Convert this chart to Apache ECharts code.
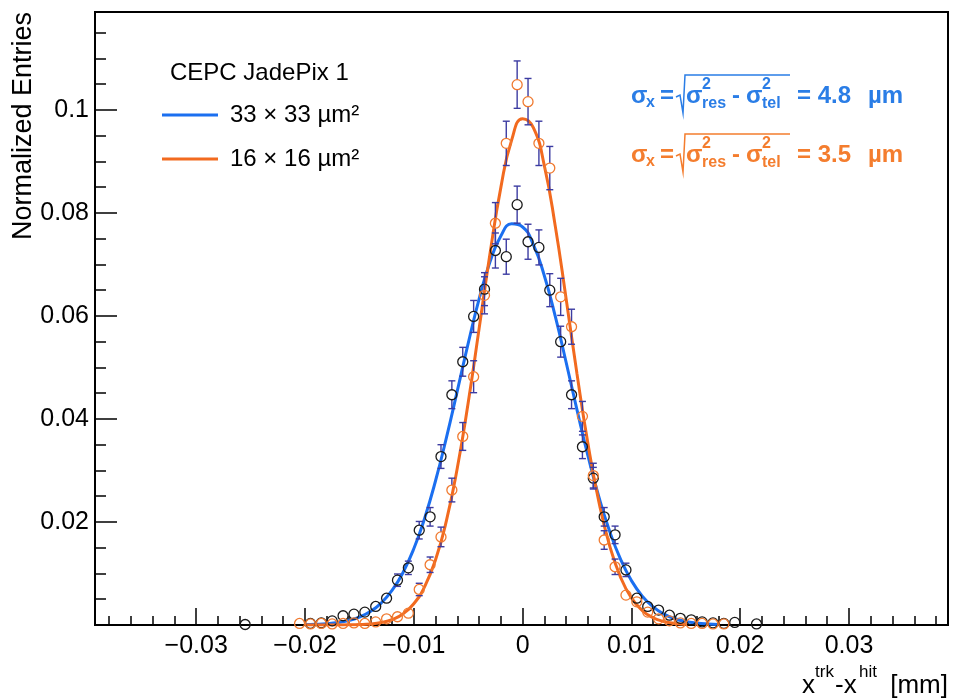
<!DOCTYPE html>
<html><head><meta charset="utf-8">
<script src="https://cdn.jsdelivr.net/npm/echarts@6/dist/echarts.min.js"></script>
<style>html,body{margin:0;padding:0;background:#fff}#c{width:953px;height:700px}</style>
</head><body><div id="c"></div>
<script>
// ---- data ----
const xMajorTicks = [-0.03, -0.02, -0.01, 0, 0.01, 0.02, 0.03];
const yMajorTicks = [0.02, 0.04, 0.06, 0.08, 0.1];

// 33 x 33 um^2 (black points)
const blackX = [-0.0255, -0.0195, -0.0185, -0.0175, -0.0165, -0.0155, -0.0145, -0.0135, -0.0125, -0.0115, -0.0105, -0.0095, -0.0085, -0.0075, -0.0065, -0.0055, -0.0045, -0.0035, -0.0025, -0.0015, -0.0005, 0.0005, 0.0015, 0.0025, 0.0035, 0.0045, 0.0055, 0.0065, 0.0075, 0.0085, 0.0095, 0.0105, 0.0115, 0.0125, 0.0135, 0.0145, 0.0155, 0.0165, 0.0175, 0.0185, 0.0195, 0.0215];
const blackY = [0.0001, 0.0003, 0.0004, 0.0008, 0.0018, 0.0021, 0.0025, 0.0036, 0.0052, 0.0087, 0.0111, 0.0184, 0.0210, 0.0327, 0.0447, 0.0511, 0.0599, 0.0652, 0.0727, 0.0715, 0.0816, 0.0744, 0.0733, 0.0650, 0.0550, 0.0447, 0.0346, 0.0285, 0.0210, 0.0175, 0.0107, 0.0052, 0.0036, 0.0029, 0.0019, 0.0013, 0.0010, 0.0006, 0.0004, 0.0003, 0.0005, 0.0002];
const blackErr = [0.0001, 0.0002, 0.0003, 0.0004, 0.0005, 0.0006, 0.0006, 0.0008, 0.0009, 0.0012, 0.0013, 0.0017, 0.0018, 0.0023, 0.0027, 0.0028, 0.0031, 0.0032, 0.0034, 0.0034, 0.0036, 0.0034, 0.0034, 0.0032, 0.0030, 0.0027, 0.0023, 0.0021, 0.0018, 0.0017, 0.0013, 0.0009, 0.0008, 0.0007, 0.0005, 0.0005, 0.0004, 0.0003, 0.0003, 0.0002, 0.0003, 0.0002];

// 16 x 16 um^2 (orange points)
const orangeX = [-0.0205, -0.0195, -0.0185, -0.0175, -0.0165, -0.0155, -0.0145, -0.0135, -0.0125, -0.0115, -0.0105, -0.0095, -0.0085, -0.0075, -0.0065, -0.0055, -0.0045, -0.0035, -0.0025, -0.0015, -0.0005, 0.0005, 0.0015, 0.0025, 0.0035, 0.0045, 0.0055, 0.0065, 0.0075, 0.0085, 0.0095, 0.0105, 0.0115, 0.0125, 0.0135, 0.0145, 0.0155, 0.0165, 0.0175, 0.0185];
const orangeY = [0.0003, 0.0002, 0.0003, 0.0002, 0.0003, 0.0004, 0.0003, 0.0006, 0.0012, 0.0016, 0.0023, 0.0069, 0.0117, 0.0171, 0.0262, 0.0366, 0.0482, 0.0640, 0.0780, 0.0935, 0.1049, 0.1016, 0.0935, 0.0887, 0.0637, 0.0579, 0.0405, 0.0290, 0.0165, 0.0113, 0.0058, 0.0045, 0.0025, 0.0012, 0.0008, 0.0004, 0.0003, 0.0003, 0.0002, 0.0002];
const orangeErr = [0.0002, 0.0002, 0.0002, 0.0002, 0.0002, 0.0003, 0.0002, 0.0003, 0.0005, 0.0006, 0.0007, 0.0012, 0.0015, 0.0019, 0.0023, 0.0027, 0.0031, 0.0036, 0.0040, 0.0043, 0.0046, 0.0045, 0.0043, 0.0042, 0.0036, 0.0034, 0.0029, 0.0024, 0.0018, 0.0015, 0.0011, 0.0010, 0.0007, 0.0005, 0.0004, 0.0003, 0.0002, 0.0002, 0.0002, 0.0002];

// fit curves
const blueFitX = [-0.020, -0.019, -0.018, -0.017, -0.016, -0.015, -0.014, -0.013, -0.012, -0.011, -0.010, -0.009, -0.008, -0.007, -0.006, -0.005, -0.004, -0.003, -0.002, -0.001, 0.000, 0.001, 0.002, 0.003, 0.004, 0.005, 0.006, 0.007, 0.008, 0.009, 0.010, 0.011, 0.012, 0.013, 0.014, 0.015, 0.016, 0.017, 0.018];
const blueFitY = [0.00006, 0.00013, 0.00025, 0.00047, 0.00087, 0.00153, 0.00260, 0.00426, 0.00670, 0.01015, 0.01479, 0.02075, 0.02800, 0.03637, 0.04545, 0.05467, 0.06327, 0.07046, 0.07551, 0.07787, 0.07727, 0.07378, 0.06780, 0.05995, 0.05101, 0.04177, 0.03291, 0.02495, 0.01820, 0.01278, 0.00863, 0.00561, 0.00351, 0.00211, 0.00122, 0.00068, 0.00037, 0.00019, 0.00009];
const orangeFitX = [-0.020, -0.019, -0.018, -0.017, -0.016, -0.015, -0.014, -0.013, -0.012, -0.011, -0.010, -0.009, -0.008, -0.007, -0.006, -0.005, -0.004, -0.003, -0.002, -0.001, 0.000, 0.001, 0.002, 0.003, 0.004, 0.005, 0.006, 0.007, 0.008, 0.009, 0.010, 0.011, 0.012, 0.013, 0.014, 0.015];
const orangeFitY = [0.000000, 0.000001, 0.000004, 0.000012, 0.000033, 0.000086, 0.00021, 0.00049, 0.00105, 0.00215, 0.00413, 0.00746, 0.01267, 0.02026, 0.03048, 0.04316, 0.05748, 0.07202, 0.08491, 0.09417, 0.09828, 0.09650, 0.08915, 0.07748, 0.06336, 0.04875, 0.03529, 0.02404, 0.01540, 0.00929, 0.00526, 0.00281, 0.00141, 0.00067, 0.00030, 0.00012];

const legendHeader = 'CEPC JadePix 1';
const legendNames = ['33 × 33 µm²', '16 × 16 µm²'];
const sigmaValues = ['4.8', '3.5'];

// ---- styling ----
const FONT = '"Liberation Sans", Arial, Helvetica, sans-serif';
const BLUE = '#1b6ff0';
const ORANGE = '#f26a1f';
const BLUE_TXT = '#2a7de6';
const ORANGE_TXT = '#f47d2e';
const ERR = '#3c3ca2';

const xMinor = [];
for (let i = -19; i <= 19; i++) xMinor.push(+(i * 0.002).toFixed(4));
const yMinor = [];
for (let i = 1; i <= 23; i++) yMinor.push(+(i * 0.005).toFixed(4));

function pointRenderer(color) {
  return function (params, api) {
    const x = api.value(0), y = api.value(1), e = api.value(2);
    const c = api.coord([x, y]);
    const t = api.coord([x, y + e]);
    const b = api.coord([x, y - e]);
    const r = 5;
    const ch = [];
    const ls = { stroke: ERR, lineWidth: 1.4 };
    if (c[1] - t[1] > r + 1) {
      ch.push({ type: 'line', shape: { x1: c[0], y1: t[1], x2: c[0], y2: c[1] - r }, style: ls });
      ch.push({ type: 'line', shape: { x1: c[0] - 3.5, y1: t[1], x2: c[0] + 3.5, y2: t[1] }, style: ls });
    }
    if (b[1] - c[1] > r + 1) {
      ch.push({ type: 'line', shape: { x1: c[0], y1: c[1] + r, x2: c[0], y2: b[1] }, style: ls });
      ch.push({ type: 'line', shape: { x1: c[0] - 3.5, y1: b[1], x2: c[0] + 3.5, y2: b[1] }, style: ls });
    }
    ch.push({ type: 'circle', shape: { cx: c[0], cy: c[1], r: r }, style: { fill: 'none', stroke: color, lineWidth: 1.3 } });
    return { type: 'group', children: ch };
  };
}

function txt(x, y, s, size, color, bold, align) {
  return { type: 'text', x: x, y: y, silent: true, z: 100,
    style: { text: s, fontSize: size, fontWeight: bold ? 'bold' : 'normal', fontFamily: FONT,
      fill: color, align: align || 'left', verticalAlign: 'middle' } };
}

function sigmaLabel(y0, color, val) {
  return [
    txt(631, y0, 'σ', 24, color, true),
    txt(646, y0 + 7, 'x', 16, color, true),
    txt(660, y0, '=', 24, color, true),
    { type: 'polyline', silent: true, z: 100,
      shape: { points: [[676, y0 + 1], [680, y0 - 1], [683, y0 + 17], [685, y0 - 21], [790, y0 - 21]] },
      style: { stroke: color, lineWidth: 1.5, fill: null } },
    txt(686, y0, 'σ', 24, color, true),
    txt(702, y0 - 11, '2', 16, color, true),
    txt(702, y0 + 8, 'res', 16, color, true),
    txt(732, y0, '-', 24, color, true),
    txt(746, y0, 'σ', 24, color, true),
    txt(762, y0 - 11, '2', 16, color, true),
    txt(762, y0 + 8, 'tel', 16, color, true),
    txt(797, y0, '= ' + val, 24, color, true),
    txt(868, y0, 'µm', 24, color, true)
  ];
}

const graphics = [].concat(
  [
    txt(170, 73, legendHeader, 24, '#000', false),
    { type: 'line', silent: true, shape: { x1: 162, y1: 115, x2: 218, y2: 115 }, style: { stroke: BLUE, lineWidth: 3 } },
    txt(230, 115, legendNames[0], 24, '#000', false),
    { type: 'line', silent: true, shape: { x1: 162, y1: 159, x2: 218, y2: 159 }, style: { stroke: ORANGE, lineWidth: 3 } },
    txt(230, 159, legendNames[1], 24, '#000', false),
    // axis titles
    { type: 'text', x: 24, y: 12, rotation: Math.PI / 2, silent: true,
      style: { text: 'Normalized Entries', fontSize: 27, fontFamily: FONT, fill: '#000', align: 'right', verticalAlign: 'middle' } },
    txt(802, 686, 'x', 26, '#000', false),
    txt(815, 672, 'trk', 17, '#000', false),
    txt(835, 686, '-x', 26, '#000', false),
    txt(859, 672, 'hit', 17, '#000', false),
    txt(948, 686, '[mm]', 26, '#000', false, 'right')
  ],
  sigmaLabel(96, BLUE_TXT, sigmaValues[0]),
  sigmaLabel(155, ORANGE_TXT, sigmaValues[1])
);

const XMIN = -0.0393, XMAX = 0.0391, YMIN = 0, YMAX = 0.119;
function fmtX(v) {
  if (Math.abs(v) < 1e-9) return '0';
  const s = Math.abs(v).toFixed(2);
  return (v < 0 ? '\u2212' : '') + s;
}
function fmtY(v) {
  return String(+v.toFixed(2));
}

const option = {
  animation: false,
  backgroundColor: '#fff',
  grid: { left: 95, right: 5, top: 12, bottom: 75, show: true, borderColor: '#000', borderWidth: 2, backgroundColor: 'transparent' },
  xAxis: [
    { type: 'value', min: XMIN, max: XMAX, position: 'bottom',
      axisLine: { show: false, onZero: false }, splitLine: { show: false },
      axisTick: { show: true, inside: true, length: 17, customValues: xMajorTicks, lineStyle: { color: '#000', width: 1.5 } },
      axisLabel: { show: true, customValues: xMajorTicks, formatter: fmtX, fontSize: 25, fontFamily: FONT, color: '#000', margin: 9 } },
    { type: 'value', min: XMIN, max: XMAX, position: 'bottom',
      axisLine: { show: false, onZero: false }, splitLine: { show: false },
      axisTick: { show: true, inside: true, length: 9, customValues: xMinor, lineStyle: { color: '#000', width: 1.5 } },
      axisLabel: { show: false } }
  ],
  yAxis: [
    { type: 'value', min: YMIN, max: YMAX, position: 'left',
      axisLine: { show: false, onZero: false }, splitLine: { show: false },
      axisTick: { show: true, inside: true, length: 22, customValues: yMajorTicks, lineStyle: { color: '#000', width: 1.5 } },
      axisLabel: { show: true, customValues: yMajorTicks, formatter: fmtY, fontSize: 25, fontFamily: FONT, color: '#000', margin: 6 } },
    { type: 'value', min: YMIN, max: YMAX, position: 'left',
      axisLine: { show: false, onZero: false }, splitLine: { show: false },
      axisTick: { show: true, inside: true, length: 11, customValues: yMinor, lineStyle: { color: '#000', width: 1.5 } },
      axisLabel: { show: false } }
  ],
  series: [
    { type: 'line', xAxisIndex: 0, yAxisIndex: 0, data: blueFitX.map((x, i) => [x, blueFitY[i]]),
      smooth: true, showSymbol: false, symbol: 'none', lineStyle: { color: BLUE, width: 3 }, z: 2 },
    { type: 'line', xAxisIndex: 0, yAxisIndex: 0, data: orangeFitX.map((x, i) => [x, orangeFitY[i]]),
      smooth: true, showSymbol: false, symbol: 'none', lineStyle: { color: ORANGE, width: 3 }, z: 2 },
    { type: 'custom', xAxisIndex: 0, yAxisIndex: 0, renderItem: pointRenderer('#1a1a1a'),
      dimensions: ['x', 'y', 'err'], encode: { x: 0, y: 1 },
      data: blackX.map((x, i) => [x, blackY[i], blackErr[i]]), z: 3 },
    { type: 'custom', xAxisIndex: 0, yAxisIndex: 0, renderItem: pointRenderer('#f07a30'),
      dimensions: ['x', 'y', 'err'], encode: { x: 0, y: 1 },
      data: orangeX.map((x, i) => [x, orangeY[i], orangeErr[i]]), z: 3 }
  ],
  graphic: graphics
};

const chart = echarts.init(document.getElementById('c'));
chart.setOption(option);
</script>
</body></html>
